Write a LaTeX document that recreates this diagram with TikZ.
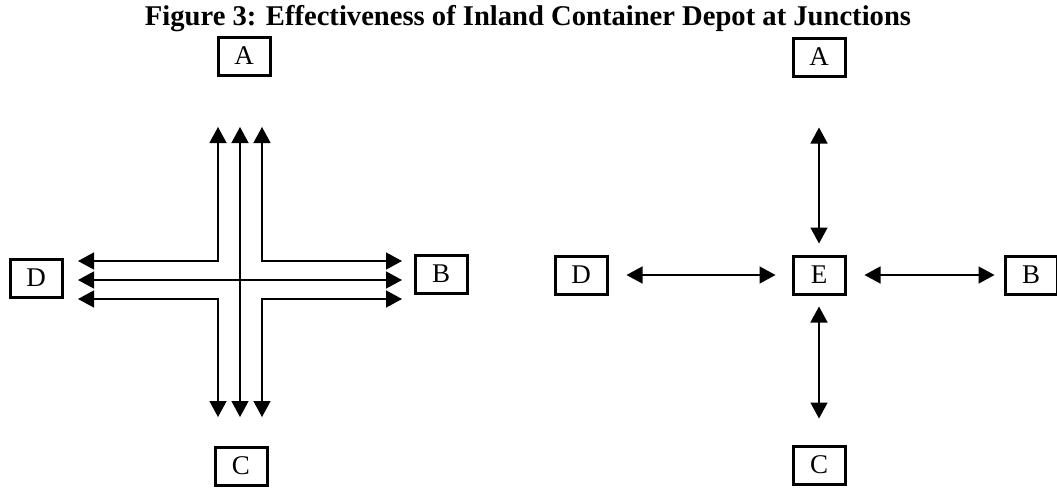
\documentclass[tikz,border=0pt]{standalone}
\usepackage{fontspec}
\setmainfont{Liberation Serif}
\usetikzlibrary{arrows.meta}

\tikzset{
  box/.style={draw, line width=3pt, minimum width=52pt, minimum height=38pt, inner sep=0pt, font=\fontsize{27}{27}\selectfont},
  link/.style={{Triangle[length=16pt,width=17pt]}-{Triangle[length=16pt,width=17pt]}, line width=1.5pt}
}

\begin{document}
\begin{tikzpicture}[x=1pt,y=-1pt]
\useasboundingbox (0,0) rectangle (1057,493);

\node[anchor=base, font=\fontsize{28.6}{30}\selectfont\bfseries] (title) at (528,25) {Figure 3: Effectiveness of Inland Container Depot at Junctions};

% left: direct links
\node[box] (lA) at (244,56) {A};
\node[box] (lB) at (441,274) {B};
\node[box] (lC) at (241,466) {C};
\node[box] (lD) at (36,278) {D};

\coordinate (t1) at (218,127);
\coordinate (t2) at (240,127);
\coordinate (t3) at (262,127);
\coordinate (b1) at (218,417);
\coordinate (b2) at (240,417);
\coordinate (b3) at (262,417);
\coordinate (w1) at (78,261);
\coordinate (w2) at (78,280);
\coordinate (w3) at (78,299);
\coordinate (e1) at (402,261);
\coordinate (e2) at (402,280);
\coordinate (e3) at (402,299);

\draw[link] (t1) |- (w1);
\draw[link] (t3) |- (e1);
\draw[link] (b1) |- (w3);
\draw[link] (b3) |- (e3);
\draw[link] (t2) -- (b2);
\draw[link] (w2) -- (e2);

% right: through the depot
\node[box] (rA) at (819,57) {A};
\node[box] (rE) at (819,275) {E};
\node[box] (rC) at (819,465) {C};
\node[box] (rD) at (581,275) {D};
\node[box] (rB) at (1031,275) {B};

\draw[link, shorten <=50pt, shorten >=11pt] (rA) -- (rE);
\draw[link, shorten <=11pt, shorten >=26pt] (rE) -- (rC);
\draw[link, shorten <=18pt, shorten >=16pt] (rD) -- (rE);
\draw[link, shorten <=18pt, shorten >=9pt] (rE) -- (rB);
\end{tikzpicture}
\end{document}
